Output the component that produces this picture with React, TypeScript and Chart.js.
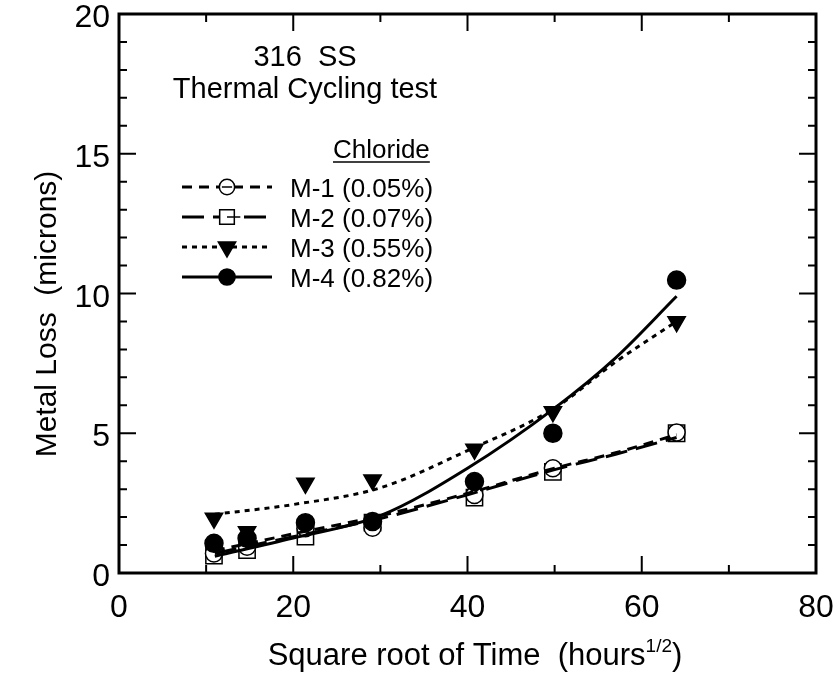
import React, { useEffect, useRef } from "react";
import { Chart, registerables } from "chart.js";

Chart.register(...registerables);

// ---- data ----
const timeRoot = [10.9, 14.7, 21.4, 29.1, 40.8, 49.8, 64.0];
const m1Loss = [0.7, 0.94, 1.6, 1.62, 2.79, 3.75, 5.03];
const m2Loss = [0.62, 0.82, 1.3, 1.8, 2.7, 3.62, 5.0];
const m3Loss = [1.96, 1.48, 3.21, 3.33, 4.43, 5.77, 8.99];
const m4Loss = [1.06, 1.24, 1.8, 1.84, 3.27, 5.0, 10.48];

// fitted curves, read at these abscissae
const fitRoot = [11, 20, 30, 40, 50, 57, 64];
const m1Fit = [0.8, 1.4, 2.05, 2.85, 3.75, 4.3, 4.95];
const m2Fit = [0.7, 1.3, 1.95, 2.8, 3.7, 4.25, 4.85];
const m3Fit = [2.1, 2.45, 3.05, 4.38, 5.9, 7.55, 9.0];
const m4Fit = [0.6, 1.25, 2.05, 3.75, 5.9, 7.7, 9.9];

const seriesLabels = ["M-1 (0.05%)", "M-2 (0.07%)", "M-3 (0.55%)", "M-4 (0.82%)"];
const legendHeader = "Chloride";
const titleLines = ["316  SS", "Thermal Cycling test"];
const xTitleMain = "Square root of Time  (hours";
const xTitleSup = "1/2";
const xTitleEnd = ")";
const yTitle = "Metal Loss  (microns)";
const xTickValues = [0, 20, 40, 60, 80];
const yTickValues = [0, 5, 10, 15, 20];
const xMinorStep = 10;
const yMinorStep = 1;

// ---- styles ----
const FONT = "'Liberation Sans', Arial, Helvetica, sans-serif";
const lossSeries = [m1Loss, m2Loss, m3Loss, m4Loss];
const fitSeries = [m1Fit, m2Fit, m3Fit, m4Fit];
const styles = [
  { dash: [10, 7], point: "circle", fill: "#ffffff", radius: 8.5, rotation: 0, markerOrder: 7 },
  { dash: [22, 9], point: "rect", fill: "#ffffff", radius: 11.5, rotation: 0, markerOrder: 8 },
  { dash: [5, 5], point: "triangle", fill: "#000000", radius: 10, rotation: 180, markerOrder: 5 },
  { dash: [], point: "circle", fill: "#000000", radius: 9, rotation: 0, markerOrder: 6 },
];

function drawMarker(ctx: CanvasRenderingContext2D, i: number, x: number, y: number, withBar: boolean) {
  const s = styles[i];
  ctx.save();
  ctx.setLineDash([]);
  ctx.fillStyle = s.fill;
  ctx.strokeStyle = "#000";
  ctx.lineWidth = 1.5;
  ctx.beginPath();
  if (s.point === "circle") {
    ctx.arc(x, y, s.radius * 0.9, 0, Math.PI * 2);
  } else if (s.point === "rect") {
    const h = s.radius * Math.SQRT1_2 * 0.9;
    ctx.rect(x - h, y - h, 2 * h, 2 * h);
  } else {
    const r = s.radius;
    ctx.moveTo(x - r * 0.866, y - r * 0.5);
    ctx.lineTo(x + r * 0.866, y - r * 0.5);
    ctx.lineTo(x, y + r);
    ctx.closePath();
  }
  ctx.fill();
  ctx.stroke();
  if (withBar) {
    const w = s.point === "rect" ? s.radius * Math.SQRT1_2 * 0.9 + 6 : s.radius * 0.6;
    ctx.beginPath();
    ctx.moveTo(x - (s.point === "rect" ? 0 : w), y);
    ctx.lineTo(x + w, y);
    ctx.stroke();
  }
  ctx.restore();
}

const decorPlugin = {
  id: "decor",
  afterDraw(chart: any) {
    const ctx: CanvasRenderingContext2D = chart.ctx;
    const xs = chart.scales.x;
    const ys = chart.scales.y;
    const { left, right, top, bottom } = chart.chartArea;
    ctx.save();
    ctx.strokeStyle = "#000";
    ctx.fillStyle = "#000";
    ctx.setLineDash([]);

    // ticks on all four sides
    ctx.lineWidth = 2;
    ctx.beginPath();
    for (let v = xs.min + xMinorStep; v < xs.max; v += xMinorStep) {
      const px = xs.getPixelForValue(v);
      const len = xTickValues.includes(v) ? 17 : 8;
      ctx.moveTo(px, bottom);
      ctx.lineTo(px, bottom - len);
      ctx.moveTo(px, top);
      ctx.lineTo(px, top + len);
    }
    for (let v = ys.min + yMinorStep; v < ys.max; v += yMinorStep) {
      const py = ys.getPixelForValue(v);
      const len = yTickValues.includes(v) ? 17 : 8;
      ctx.moveTo(left, py);
      ctx.lineTo(left + len, py);
      ctx.moveTo(right, py);
      ctx.lineTo(right - len, py);
    }
    ctx.stroke();

    // frame
    ctx.lineWidth = 3;
    ctx.strokeRect(left, top, right - left, bottom - top);

    // tick labels (taken from the scales' ticks)
    ctx.font = `32px ${FONT}`;
    ctx.textBaseline = "alphabetic";
    ctx.textAlign = "center";
    for (const t of xs.ticks) {
      ctx.fillText(String(t.value), xs.getPixelForValue(t.value), 617);
    }
    ctx.textAlign = "right";
    for (const t of ys.ticks) {
      ctx.fillText(String(t.value), left - 9, ys.getPixelForValue(t.value) + 13);
    }

    // inner title
    ctx.font = `29px ${FONT}`;
    ctx.textAlign = "center";
    ctx.fillText(titleLines[0], 305, 66);
    ctx.fillText(titleLines[1], 305, 98);

    // legend
    ctx.font = `26px ${FONT}`;
    ctx.textAlign = "left";
    const hx = 333;
    ctx.fillText(legendHeader, hx, 158);
    const hw = ctx.measureText(legendHeader).width;
    ctx.lineWidth = 1.5;
    ctx.beginPath();
    ctx.moveTo(hx, 162);
    ctx.lineTo(hx + hw, 162);
    ctx.stroke();

    const rowY = [187, 217, 247, 277];
    const lx0 = 182;
    const lx1 = 272;
    const mx = 227;
    for (let i = 0; i < 4; i++) {
      const y = rowY[i];
      ctx.save();
      ctx.lineWidth = 3;
      ctx.setLineDash(styles[i].dash);
      ctx.beginPath();
      ctx.moveTo(lx0, y);
      ctx.lineTo(lx1, y);
      ctx.stroke();
      ctx.restore();
      drawMarker(ctx, i, mx, y, i < 2);
      ctx.fillStyle = "#000";
      ctx.font = `26px ${FONT}`;
      ctx.fillText(seriesLabels[i], 290, y + 9.5);
    }

    // x axis title with superscript
    ctx.font = `31px ${FONT}`;
    const wMain = ctx.measureText(xTitleMain).width;
    const wEnd = ctx.measureText(xTitleEnd).width;
    ctx.font = `19px ${FONT}`;
    const wSup = ctx.measureText(xTitleSup).width;
    const total = wMain + wSup + wEnd;
    const cx = 475;
    let sx = cx - total / 2;
    const by = 665;
    ctx.textAlign = "left";
    ctx.font = `31px ${FONT}`;
    ctx.fillText(xTitleMain, sx, by);
    sx += wMain;
    ctx.font = `19px ${FONT}`;
    ctx.fillText(xTitleSup, sx, by - 13);
    sx += wSup;
    ctx.font = `31px ${FONT}`;
    ctx.fillText(xTitleEnd, sx, by);

    // y axis title
    ctx.save();
    ctx.font = `30px ${FONT}`;
    ctx.translate(56, 314);
    ctx.rotate(-Math.PI / 2);
    ctx.textAlign = "center";
    ctx.fillText(yTitle, 0, 0);
    ctx.restore();

    ctx.restore();
  },
};

export default function App() {
  const ref = useRef<HTMLCanvasElement | null>(null);

  useEffect(() => {
    if (!ref.current) return;
    const datasets: any[] = [];
    for (let i = 0; i < 4; i++) {
      const s = styles[i];
      datasets.push({
        label: seriesLabels[i] + " fit",
        data: fitRoot.map((x, j) => ({ x, y: fitSeries[i][j] })),
        showLine: true,
        borderColor: "#000",
        borderWidth: 3,
        borderDash: s.dash,
        pointRadius: 0,
        cubicInterpolationMode: "monotone",
        fill: false,
        order: 4 - i,
      });
      datasets.push({
        label: seriesLabels[i],
        data: timeRoot.map((x, j) => ({ x, y: lossSeries[i][j] })),
        showLine: false,
        pointStyle: s.point,
        pointRadius: s.radius,
        pointRotation: s.rotation,
        pointBackgroundColor: s.fill,
        pointBorderColor: "#000",
        pointBorderWidth: 1.5,
        order: s.markerOrder,
      });
    }

    const chart = new Chart(ref.current, {
      type: "scatter",
      data: { datasets },
      options: {
        animation: false,
        responsive: false,
        devicePixelRatio: 1,
        layout: { padding: { left: 0, top: 14, right: 24, bottom: 0 } },
        plugins: { legend: { display: false }, tooltip: { enabled: false }, title: { display: false } },
        scales: {
          x: {
            type: "linear",
            min: 0,
            max: 80,
            afterBuildTicks: (s: any) => {
              s.ticks = xTickValues.map((v) => ({ value: v }));
            },
            ticks: { display: false },
            grid: { display: false, drawTicks: false },
            border: { display: false },
            afterFit: (s: any) => {
              s.height = 117;
              s.paddingLeft = 0;
              s.paddingRight = 0;
            },
          },
          y: {
            type: "linear",
            min: 0,
            max: 20,
            afterBuildTicks: (s: any) => {
              s.ticks = yTickValues.map((v) => ({ value: v }));
            },
            ticks: { display: false },
            grid: { display: false, drawTicks: false },
            border: { display: false },
            afterFit: (s: any) => {
              s.width = 119;
              s.paddingTop = 0;
              s.paddingBottom = 0;
            },
          },
        },
      },
      plugins: [decorPlugin],
    });
    return () => chart.destroy();
  }, []);

  return (
    <div style={{ position: "fixed", left: 0, top: 0, width: 840, height: 690, background: "#fff" }}>
      <canvas ref={ref} width={840} height={690} style={{ width: 840, height: 690, display: "block" }} />
    </div>
  );
}
